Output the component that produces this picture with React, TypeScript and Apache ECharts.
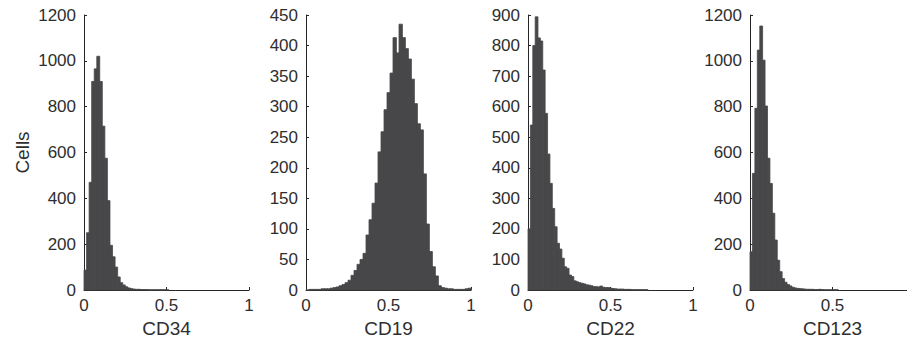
import React, { useEffect, useRef } from 'react';
import * as echarts from 'echarts';

const markers = ['CD34', 'CD19', 'CD22', 'CD123'];
const yAxisTitle = 'Cells';
const binWidths = [0.0155, 1 / 55, 0.0145, 0.0148];

const cd34Counts = [87, 250, 470, 910, 965, 1020, 910, 715, 575, 390, 195, 145, 100, 57, 32, 22, 14, 9, 6, 4, 3, 3, 2, 2, 2, 1, 1, 1, 1, 1, 1, 1, 1];
const cd19Counts = [0, 1, 1, 1, 1, 2, 2, 2, 3, 4, 5, 7, 9, 12, 16, 24, 32, 42, 50, 60, 90, 115, 142, 175, 226, 259, 295, 323, 355, 413, 388, 435, 413, 395, 378, 345, 305, 272, 262, 190, 108, 63, 38, 23, 7, 4, 3, 2, 2, 1, 1, 1, 1, 2, 3];
const cd22Counts = [200, 540, 800, 894, 825, 815, 720, 578, 445, 349, 267, 207, 153, 134, 104, 76, 71, 49, 44, 30, 27, 24, 22, 20, 17, 16, 14, 11, 11, 10, 13, 9, 8, 8, 6, 5, 4, 3, 3, 3, 2, 2, 2, 1, 1, 1, 1, 1, 1, 1];
const cd123Counts = [167, 509, 793, 1047, 1152, 1003, 803, 575, 465, 335, 218, 130, 80, 50, 34, 24, 18, 12, 9, 7, 6, 5, 4, 3, 3, 3, 2, 2, 3, 2, 1, 1, 1, 1, 1, 1];

const allCounts = [cd34Counts, cd19Counts, cd22Counts, cd123Counts];
const yMaxes = [1200, 450, 900, 1200];
const yIntervals = [200, 50, 100, 200];
const xMin = 0;
const xMax = 1;
const xInterval = 0.5;

const AXIS_COLOR = '#262626';
const TEXT_COLOR = '#2e2e2e';
const BAR_COLOR = '#48484a';
const FONT = '"Liberation Sans", Arial, Helvetica, sans-serif';

export default function App() {
  const ref = useRef<HTMLDivElement>(null);
  useEffect(() => {
    const chart = echarts.init(ref.current!, null, { renderer: 'svg' });
    const lefts = [84, 306, 528, 750];
    const grids = lefts.map((l) => ({
      left: l, top: 15, width: 165, height: 275,
      containLabel: false, outerBoundsMode: 'none',
    }));
    const fmt = (v: number) => String(v);
    const xAxes = markers.map((m, i) => ({
      type: 'value',
      gridIndex: i,
      min: xMin,
      max: xMax,
      interval: xInterval,
      axisLine: { show: true, lineStyle: { color: AXIS_COLOR, width: 1 } },
      axisTick: { show: true, inside: true, length: 3, lineStyle: { color: AXIS_COLOR } },
      axisLabel: {
        color: TEXT_COLOR, fontSize: 17, fontFamily: FONT, margin: 7, formatter: fmt,
        showMaxLabel: i !== 3,
      },
      splitLine: { show: false },
      name: m,
      nameLocation: 'middle',
      nameGap: 24,
      nameTextStyle: { color: TEXT_COLOR, fontSize: 19, fontFamily: FONT },
    }));
    const yAxes = markers.map((m, i) => ({
      type: 'value',
      gridIndex: i,
      min: 0,
      max: yMaxes[i],
      interval: yIntervals[i],
      axisLine: { show: true, lineStyle: { color: AXIS_COLOR, width: 1 } },
      axisTick: { show: true, inside: true, length: 3, lineStyle: { color: AXIS_COLOR } },
      axisLabel: { color: TEXT_COLOR, fontSize: 17, fontFamily: FONT, margin: 8, formatter: fmt },
      splitLine: { show: false },
      name: i === 0 ? yAxisTitle : '',
      nameLocation: 'middle',
      nameGap: 52,
      nameTextStyle: { color: TEXT_COLOR, fontSize: 19, fontFamily: FONT },
    }));
    const series = allCounts.map((counts, i) => ({
      type: 'custom',
      xAxisIndex: i,
      yAxisIndex: i,
      data: counts.map((c, k) => [k * binWidths[i], (k + 1) * binWidths[i], c]),
      encode: { x: [0, 1], y: 2 },
      renderItem: (params: any, api: any) => {
        const p0 = api.coord([api.value(0), 0]);
        const p1 = api.coord([api.value(1), api.value(2)]);
        return {
          type: 'rect',
          shape: { x: p0[0], y: p1[1], width: p1[0] - p0[0] + 0.4, height: p0[1] - p1[1] },
          style: { fill: BAR_COLOR, stroke: BAR_COLOR, lineWidth: 0.8 },
        };
      },
    }));
    chart.setOption({
      animation: false,
      backgroundColor: '#ffffff',
      grid: grids,
      xAxis: xAxes,
      yAxis: yAxes,
      series,
    });
    return () => chart.dispose();
  }, []);
  return <div ref={ref} style={{ position: 'fixed', left: 0, top: 0, width: 907, height: 338 }} />;
}
